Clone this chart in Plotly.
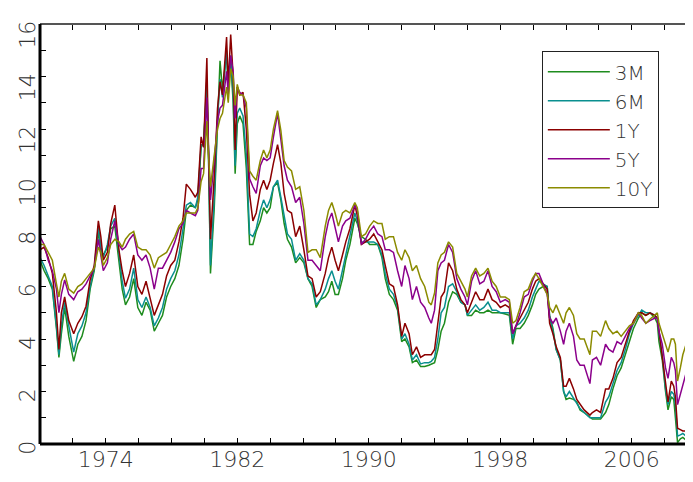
import plotly.graph_objects as go

dates = [1970.00, 1970.25, 1970.50, 1970.75, 1971.00, 1971.15, 1971.30, 1971.50, 1971.75, 1972.05,
         1972.30, 1972.55, 1972.80, 1973.05, 1973.30, 1973.55, 1973.70, 1973.85, 1974.10, 1974.30,
         1974.55, 1974.80, 1975.00, 1975.20, 1975.45, 1975.70, 1975.95, 1976.20, 1976.45, 1976.70,
         1976.95, 1977.20, 1977.45, 1977.70, 1977.95, 1978.20, 1978.45, 1978.70, 1978.90, 1979.15,
         1979.45, 1979.60, 1979.80, 1979.95, 1980.15, 1980.25, 1980.37, 1980.60, 1980.80, 1980.95,
         1981.10, 1981.35, 1981.45, 1981.60, 1981.75, 1981.87, 1982.00, 1982.15, 1982.35, 1982.55,
         1982.75, 1982.95, 1983.15, 1983.40, 1983.60, 1983.80, 1984.00, 1984.20, 1984.45, 1984.65,
         1984.85, 1985.05, 1985.30, 1985.55, 1985.80, 1986.05, 1986.30, 1986.55, 1986.80, 1987.05,
         1987.35, 1987.55, 1987.75, 1987.95, 1988.15, 1988.40, 1988.60, 1988.85, 1989.15, 1989.30,
         1989.55, 1989.80, 1990.05, 1990.30, 1990.55, 1990.80, 1991.00, 1991.25, 1991.50, 1991.75,
         1992.00, 1992.20, 1992.45, 1992.65, 1992.90, 1993.15, 1993.40, 1993.65, 1993.80, 1994.00,
         1994.20, 1994.40, 1994.60, 1994.85, 1995.10, 1995.35, 1995.60, 1995.85, 1996.00, 1996.25,
         1996.50, 1996.75, 1997.00, 1997.25, 1997.50, 1997.75, 1998.00, 1998.30, 1998.55, 1998.75,
         1998.95, 1999.20, 1999.45, 1999.70, 1999.95, 2000.15, 2000.35, 2000.60, 2000.85, 2001.00,
         2001.20, 2001.40, 2001.65, 2001.85, 2002.00, 2002.20, 2002.45, 2002.65, 2002.85, 2003.10,
         2003.45, 2003.60, 2003.85, 2004.10, 2004.40, 2004.60, 2004.85, 2005.10, 2005.35, 2005.60,
         2005.85, 2006.10, 2006.40, 2006.60, 2006.85, 2007.10, 2007.40, 2007.55, 2007.65, 2007.85,
         2008.05, 2008.20, 2008.40, 2008.55, 2008.65, 2008.78, 2008.95, 2009.10, 2009.30, 2009.50,
         2009.75]

y3m = [7.0, 6.6, 6.3, 5.9, 4.4, 3.3, 4.2, 5.2, 4.1, 3.15,
       3.8, 4.1, 4.7, 5.9, 6.6, 8.1, 7.4, 7.2, 7.5, 8.2,
       8.3, 7.0, 5.9, 5.3, 5.6, 6.3, 5.2, 4.9, 5.4, 5.1,
       4.3, 4.6, 4.9, 5.6, 6.0, 6.3, 6.8, 7.8, 8.9, 9.1,
       9.0, 9.3, 11.3, 11.5, 13.6, 11.0, 6.5, 9.0, 12.0, 14.6,
       13.5, 14.9, 13.5, 14.6, 13.0, 10.3, 12.2, 12.5, 12.2, 10.5,
       7.6, 7.6, 8.1, 8.5, 9.0, 8.8, 9.0, 9.8, 9.95, 9.3,
       8.4, 7.8, 7.5, 6.9, 7.1, 6.9, 6.3, 6.0, 5.2, 5.5,
       5.6, 5.8, 6.2, 5.7, 5.7, 6.3, 7.0, 7.6, 8.6, 8.4,
       7.9, 7.8, 7.6, 7.6, 7.6, 7.1, 6.3, 5.7, 5.5, 5.1,
       3.9, 4.0, 3.7, 3.1, 3.2, 2.95, 2.95, 3.0, 3.05, 3.1,
       3.6, 4.3, 4.6, 5.4, 5.8, 5.7, 5.4, 5.3, 4.9, 4.9,
       5.1, 5.0, 5.0, 5.1, 5.0, 5.0, 5.0, 4.95, 4.9, 3.8,
       4.4, 4.4, 4.6, 4.9, 5.3, 5.7, 5.9, 6.0, 6.0, 4.9,
       4.4, 3.6, 3.2, 2.0, 1.7, 1.75, 1.7, 1.6, 1.3, 1.2,
       1.0, 0.95, 0.95, 0.95, 1.2, 1.5, 2.1, 2.6, 2.9, 3.4,
       3.9, 4.4, 4.8, 5.0, 4.9, 5.0, 4.8, 4.6, 3.9, 3.2,
       2.0, 1.3, 1.8, 1.7, 1.0, 0.05, 0.2, 0.25, 0.15, 0.15,
       0.1]

y6m = [7.1, 6.8, 6.4, 6.0, 4.5, 3.4, 4.5, 5.4, 4.5, 3.5,
       4.2, 4.5, 5.0, 6.0, 6.7, 8.3, 7.5, 7.1, 7.6, 8.3,
       8.6, 7.2, 6.2, 5.55, 5.9, 6.7, 5.5, 5.2, 5.6, 5.2,
       4.5, 4.8, 5.2, 5.9, 6.3, 6.6, 7.2, 8.2, 9.1, 9.2,
       9.0, 9.4, 11.4, 11.4, 13.9, 11.0, 6.8, 9.4, 12.4, 13.9,
       13.2, 15.0, 13.6, 14.8, 13.3, 10.6, 12.6, 12.8, 12.5, 11.0,
       8.0, 7.9, 8.2, 8.9, 9.3, 9.0, 9.3, 9.8, 10.05, 9.4,
       8.65, 8.0, 7.8, 7.0, 7.25, 7.0, 6.3, 6.1, 5.3, 5.5,
       5.9, 6.3, 6.6, 6.2, 5.9, 6.6, 7.2, 7.9, 8.8, 8.5,
       7.7, 7.7, 7.7, 7.7, 7.6, 7.2, 6.5, 5.9, 5.7, 5.2,
       4.0, 4.2, 3.8, 3.2, 3.4, 3.05, 3.1, 3.1, 3.15, 3.3,
       4.0, 5.0, 5.2, 6.0, 6.1, 5.8, 5.4, 5.3, 4.9, 5.1,
       5.3, 5.1, 5.2, 5.4, 5.1, 5.1, 5.0, 5.0, 5.0, 4.0,
       4.5, 4.6, 4.8, 5.1, 5.6, 5.9, 6.2, 6.1, 6.0, 4.8,
       4.3, 3.6, 3.2, 2.0, 1.8, 2.0, 1.75, 1.6, 1.35, 1.2,
       1.0, 1.0, 1.0, 1.0, 1.6, 1.8, 2.3, 2.8, 3.1, 3.6,
       4.2, 4.6, 4.9, 5.1, 5.0, 5.0, 4.9, 4.8, 4.2, 3.4,
       2.1, 1.5, 2.0, 1.9, 1.5, 0.3, 0.35, 0.4, 0.3, 0.25,
       0.2]

y1y = [7.4, 7.5, 7.1, 6.5, 5.0, 3.6, 5.0, 5.6, 4.7, 4.2,
       4.6, 4.85, 5.25, 6.25, 6.8, 8.5, 7.9, 7.0, 7.3, 8.4,
       9.1, 7.4, 6.6, 6.0, 6.5, 7.2, 6.0, 5.7, 6.2, 5.6,
       4.9, 5.3, 5.7, 6.4, 6.8, 7.0, 7.7, 8.6, 9.9, 9.7,
       9.4, 9.6, 11.7, 11.3, 14.7, 11.2, 7.8, 10.2, 12.8, 13.8,
       13.3, 15.5, 13.7, 15.6, 14.0, 11.2, 13.6, 13.3, 13.4, 12.0,
       9.5, 8.5, 8.8, 9.7, 10.05, 9.7, 10.05, 10.7, 11.4, 10.7,
       9.55, 8.9, 8.8, 7.9, 8.3, 7.4, 6.4, 6.3, 5.6, 5.8,
       6.5, 7.1, 7.5, 7.0, 6.6, 7.2, 7.7, 8.2, 9.1, 8.7,
       7.6, 7.7, 7.8, 8.0, 7.7, 7.4, 6.8, 6.1, 6.0, 5.3,
       4.1, 4.6, 4.2, 3.4, 3.7, 3.3, 3.4, 3.4, 3.4, 3.6,
       4.5, 5.6, 5.8, 6.9, 6.6, 5.9, 5.5, 5.3, 5.0, 5.4,
       5.8, 5.5, 5.5, 5.9, 5.5, 5.4, 5.2, 5.3, 5.2, 4.2,
       4.5, 4.8, 5.1, 5.4, 5.9, 6.2, 6.3, 6.1, 5.9, 4.6,
       4.2, 3.7, 3.3, 2.2, 2.2, 2.5, 2.1, 1.7, 1.5, 1.3,
       1.1, 1.2, 1.3, 1.2, 2.1, 2.1, 2.5, 3.1, 3.3, 3.8,
       4.3, 4.7, 5.0, 5.0, 4.9, 5.0, 4.9, 4.8, 4.3, 3.4,
       2.3, 1.6, 2.4, 2.2, 1.8, 0.6, 0.55, 0.5, 0.5, 0.45,
       0.4]

y5y = [7.9, 7.6, 7.0, 6.6, 5.9, 5.0, 5.7, 6.25, 5.7, 5.5,
       5.8, 5.9, 6.1, 6.4, 6.7, 7.8, 7.2, 6.6, 6.9, 7.8,
       8.5, 7.6, 7.4, 7.5, 7.8, 8.0, 7.2, 7.0, 7.2, 6.7,
       5.9, 6.7, 6.7, 7.0, 7.3, 7.7, 8.2, 8.4, 8.9, 8.8,
       8.7, 8.9, 10.5, 10.5, 13.2, 11.2, 9.3, 10.8, 12.3, 12.8,
       12.9, 14.2, 13.3, 14.8, 14.2, 12.4, 13.6, 13.4, 13.3, 12.8,
       10.1, 9.8, 9.55, 10.6, 10.9, 10.8, 10.9, 11.7, 12.6, 11.6,
       10.6, 10.05, 9.8, 9.2, 9.4, 8.4, 7.0, 7.0, 6.8, 6.6,
       7.9, 8.5, 8.8, 8.2, 7.7, 8.3, 8.5, 8.6, 9.1, 8.9,
       7.6, 7.8, 8.1, 8.3, 8.0, 7.9, 7.4, 7.4, 7.3, 6.6,
       6.0, 6.8, 6.3, 5.5, 6.0, 5.4, 5.2, 4.8, 4.6, 5.1,
       6.6, 6.9, 7.0, 7.6, 7.3, 6.3, 5.9, 5.6, 5.3, 6.2,
       6.6, 6.1, 6.2, 6.6, 6.0, 5.8, 5.4, 5.5, 5.4, 4.2,
       4.5, 5.0, 5.6, 5.7, 6.2, 6.5, 6.5, 6.1, 5.7, 4.8,
       4.6, 4.8, 4.3, 3.8, 4.3, 4.6, 4.1, 3.2, 3.0, 3.0,
       2.3, 3.2, 3.3, 3.0, 3.8, 3.6, 3.5, 3.9, 3.8, 4.1,
       4.4, 4.6, 5.0, 4.8, 4.6, 4.7, 4.8, 4.8, 4.3, 3.8,
       2.9, 2.5, 3.3, 3.1, 2.8, 1.5, 1.9, 2.3, 2.7, 2.5,
       2.3]

y10y = [7.6, 7.6, 7.3, 7.0, 6.1, 5.6, 6.2, 6.5, 5.9, 5.75,
        6.0, 6.1, 6.3, 6.5, 6.7, 7.5, 7.3, 6.8, 7.1, 7.6,
        7.8, 7.7, 7.5, 7.8, 8.0, 8.1, 7.5, 7.4, 7.4, 7.2,
        6.7, 7.1, 7.2, 7.3, 7.6, 7.9, 8.3, 8.5, 8.8, 8.8,
        8.8, 9.0, 10.0, 10.3, 12.3, 11.0, 9.8, 11.0, 12.0, 12.4,
        12.6, 13.6, 13.0, 14.3, 14.0, 12.9, 13.7, 13.3, 13.3, 13.0,
        10.4, 10.2, 10.05, 10.8, 11.2, 10.9, 11.2, 12.0, 12.7, 11.95,
        10.8, 10.55, 10.4, 9.7, 9.8, 8.9, 7.3, 7.4, 7.4, 7.1,
        8.3, 8.9, 9.2, 8.8, 8.3, 8.8, 8.9, 8.8, 9.2, 9.0,
        7.9, 8.0, 8.3, 8.5, 8.4, 8.4, 7.8, 7.9, 7.9, 7.3,
        7.0, 7.4, 7.1, 6.6, 6.8, 6.3, 6.0, 5.4, 5.3, 5.75,
        6.9, 7.2, 7.3, 7.7, 7.5, 6.5, 6.2, 5.9, 5.6, 6.4,
        6.7, 6.4, 6.5, 6.7, 6.2, 6.0, 5.6, 5.6, 5.5, 4.6,
        4.7, 5.2, 5.8, 5.9, 6.3, 6.5, 6.3, 6.0, 5.7, 5.2,
        5.0, 5.3, 4.9, 4.6, 5.0, 5.2, 4.9, 4.2, 4.0, 4.0,
        3.4, 4.3, 4.3, 4.1, 4.7, 4.4, 4.2, 4.3, 4.1, 4.3,
        4.5, 4.6, 5.0, 4.9, 4.6, 4.75, 4.9, 5.0, 4.6, 4.2,
        3.8, 3.5, 4.0, 4.0, 3.8, 2.4, 2.9, 3.4, 3.8, 3.5,
        3.3]

series_names = ["3M", "6M", "1Y", "5Y", "10Y"]
series_values = [y3m, y6m, y1y, y5y, y10y]
series_colors = ["#1e8c1e", "#0a8f8f", "#8b0000", "#8b008b", "#8b8b00"]

x_ticks = [1974, 1982, 1990, 1998, 2006]
y_ticks = [0, 2, 4, 6, 8, 10, 12, 14, 16]

FONT = "DejaVu Sans"
TXT = "#333333"
TICKFONT = dict(family=FONT, size=22, color=TXT, weight=200)

fig = go.Figure()
for name, vals, col in zip(series_names, series_values, series_colors):
    fig.add_trace(go.Scatter(x=dates, y=vals, mode="lines", name=name,
                             line=dict(color=col, width=1.5)))

minor_x = dict(dtick=2, tick0=1970, ticks="inside", ticklen=6, tickwidth=1.2,
               tickcolor="black", showgrid=False)
minor_y = dict(dtick=1, tick0=0, ticks="inside", ticklen=6, tickwidth=1.2,
               tickcolor="black", showgrid=False)

# The page body has an 8px default margin, so the figure is sized to the
# visible part of the 693x482 window.
fig.update_layout(
    template="none",
    width=685, height=474,
    margin=dict(l=32, r=0, t=16, b=38, pad=0),
    paper_bgcolor="white", plot_bgcolor="white",
    font=dict(family=FONT, size=20, color=TXT),
    xaxis=dict(range=[1970, 2009.72], tickmode="array", tickvals=x_ticks,
               ticktext=[str(v) for v in x_ticks],
               ticks="inside", ticklen=6, tickwidth=1.2, tickcolor="black",
               showline=False, mirror="ticks", automargin=False,
               showgrid=False, zeroline=False, minor=minor_x,
               tickfont=TICKFONT),
    yaxis=dict(range=[0, 16], tickmode="array", tickvals=y_ticks,
               ticktext=[str(v) for v in y_ticks], tickangle=-89.9,
               ticklabelstandoff=15,
               ticks="inside", ticklen=6, tickwidth=1.2, tickcolor="black",
               showline=False, mirror="ticks", automargin=False,
               showgrid=False, zeroline=False, minor=minor_y,
               tickfont=TICKFONT),
    shapes=[
        dict(type="line", xref="paper", yref="paper", x0=0, x1=1, y0=1, y1=1,
             line=dict(color="#555555", width=2)),
        dict(type="line", xref="paper", yref="paper", x0=0, x1=1, y0=0, y1=0,
             line=dict(color="black", width=3)),
        dict(type="line", xref="paper", yref="paper", x0=0, x1=0, y0=0, y1=1,
             line=dict(color="black", width=3)),
    ],
    legend=dict(x=0.7685, y=0.935, xanchor="left", yanchor="top",
                bgcolor="white", bordercolor="#222222", borderwidth=1,
                font=dict(family=FONT, size=20, color=TXT, weight=200),
                itemwidth=62, tracegroupgap=0,
                entrywidth=48, entrywidthmode="pixels"),
    showlegend=True,
)

fig.write_html("out.html")
